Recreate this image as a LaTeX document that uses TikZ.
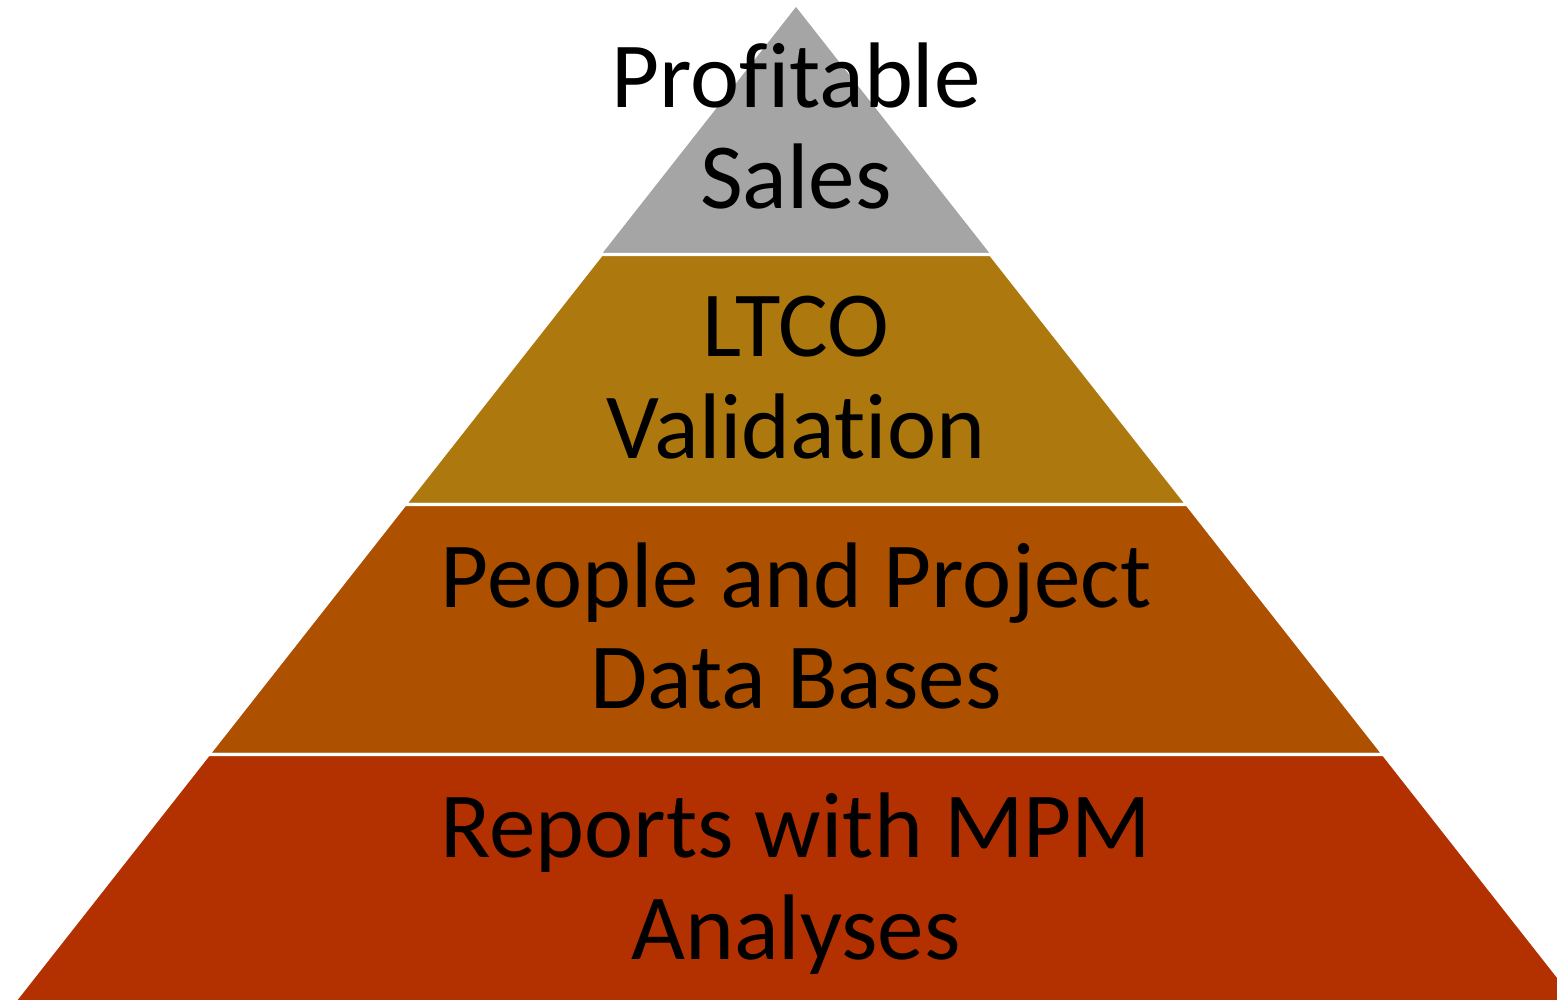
\documentclass[tikz,border=0pt]{standalone}
\usepackage{fontspec}
\setmainfont[Ligatures=NoCommon]{Carlito}
\usetikzlibrary{calc}
\definecolor{levelgray}{HTML}{A5A5A5}
\definecolor{levelgold}{HTML}{AD780E}
\definecolor{levelorange}{HTML}{AD5000}
\definecolor{levelred}{HTML}{B33100}
\tikzstyle{layer} = [draw=white,line width=0.9pt,line join=miter]
\tikzstyle{caption} = [align=center,inner sep=0pt,font=\fontsize{26.5}{29}\selectfont]

\begin{document}
\begin{tikzpicture}
    \useasboundingbox (0,0) rectangle (15.57,10);
    \clip (0,0) rectangle (15.57,10);
    % Draw the pyramid layers, top to bottom
    \coordinate (apex) at (7.96,9.93);
    \fill[levelgray] (apex) -- (9.905,7.455) -- (6.015,7.455) -- cycle;
    \draw[layer] (9.905,7.455) -- (6.015,7.455);
    \foreach \yt/\yb/\col in {7.455/4.955/levelgold, 4.955/2.455/levelorange, 2.455/-0.2/levelred}
        \filldraw[layer,fill=\col] ({7.96-0.786*(9.93-\yt)},\yt) -- ({7.96+0.786*(9.93-\yt)},\yt)
            -- ({7.96+0.786*(9.93-\yb)},\yb) -- ({7.96-0.786*(9.93-\yb)},\yb) -- cycle;

    % Then the labels of the layers
    \foreach \y/\name/\txt in {8.74/sales/{Profitable\\Sales}, 6.225/ltco/{LTCO\\Validation},
        3.74/bases/{People and Project\\Data Bases}, 1.16/reports/{Reports with MPM\\Analyses}}
        \node[caption] (\name) at (7.96,\y) {\txt};
\end{tikzpicture}
\end{document}
